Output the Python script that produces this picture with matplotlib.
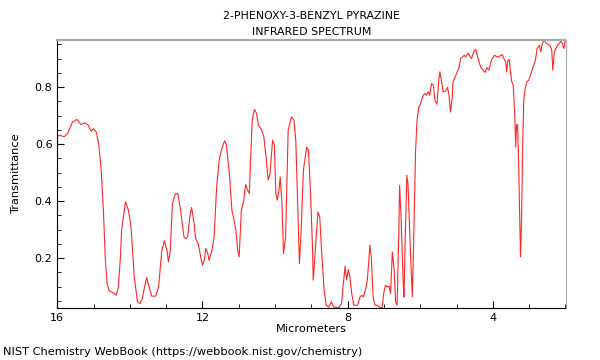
import matplotlib
matplotlib.use("Agg")
import matplotlib.pyplot as plt
from matplotlib.ticker import MultipleLocator

# values (micrometers, transmittance)
wavelength = [
    16.00, 15.94, 15.81, 15.72, 15.58, 15.46, 15.35, 15.24, 15.16, 15.07,
    15.00, 14.93, 14.86, 14.79, 14.73, 14.68, 14.63, 14.57, 14.45, 14.37,
    14.32, 14.26, 14.23, 14.12, 14.04, 13.97, 13.88, 13.79, 13.72, 13.66,
    13.54, 13.47, 13.40, 13.29, 13.21, 13.12, 13.05, 12.97, 12.94, 12.89,
    12.83, 12.75, 12.68, 12.61, 12.51, 12.46, 12.41, 12.35, 12.30, 12.23,
    12.19, 12.12, 12.05, 12.00, 11.95, 11.91, 11.86, 11.82, 11.74, 11.68,
    11.61, 11.54, 11.47, 11.39, 11.34, 11.26, 11.19, 11.14, 11.08, 11.03,
    10.99, 10.93, 10.87, 10.81, 10.76, 10.71, 10.68, 10.63, 10.57, 10.51,
    10.46, 10.37, 10.31, 10.25, 10.19, 10.14, 10.07, 10.02, 9.98, 9.94,
    9.90, 9.86, 9.81, 9.77, 9.71, 9.64, 9.55, 9.48, 9.43, 9.39,
    9.33, 9.29, 9.22, 9.13, 9.08, 9.02, 8.97, 8.95, 8.88, 8.82,
    8.77, 8.72, 8.65, 8.59, 8.52, 8.45, 8.39, 8.24, 8.17, 8.12,
    8.07, 8.03, 7.98, 7.94, 7.89, 7.83, 7.73, 7.66, 7.61, 7.57,
    7.50, 7.46, 7.41, 7.39, 7.35, 7.30, 7.25, 7.18, 7.12, 7.05,
    7.01, 6.96, 6.90, 6.86, 6.82, 6.77, 6.72, 6.68, 6.64, 6.59,
    6.57, 6.53, 6.47, 6.45, 6.41, 6.37, 6.34, 6.28, 6.22, 6.18,
    6.13, 6.09, 6.04, 5.99, 5.94, 5.88, 5.83, 5.78, 5.74, 5.69,
    5.64, 5.60, 5.54, 5.49, 5.46, 5.42, 5.37, 5.31, 5.25, 5.21,
    5.17, 5.12, 5.10, 5.00, 4.93, 4.89, 4.84, 4.79, 4.75, 4.68,
    4.63, 4.59, 4.52, 4.47, 4.41, 4.34, 4.27, 4.22, 4.16, 4.11,
    4.04, 3.96, 3.88, 3.81, 3.74, 3.70, 3.65, 3.62, 3.59, 3.55,
    3.51, 3.48, 3.44, 3.40, 3.37, 3.35, 3.32, 3.29, 3.26, 3.24,
    3.21, 3.18, 3.15, 3.12, 3.07, 3.01, 2.95, 2.89, 2.83, 2.78,
    2.72, 2.68, 2.64, 2.59, 2.52, 2.43, 2.38, 2.35, 2.31, 2.26,
    2.22, 2.17, 2.13, 2.09, 2.04, 2.01,
]
transmittance = [
    0.626, 0.632, 0.626, 0.637, 0.678, 0.687, 0.669, 0.675, 0.669, 0.646,
    0.654, 0.643, 0.602, 0.509, 0.368, 0.205, 0.111, 0.085, 0.078, 0.070,
    0.099, 0.205, 0.298, 0.398, 0.368, 0.310, 0.134, 0.047, 0.041, 0.059,
    0.132, 0.099, 0.067, 0.067, 0.099, 0.228, 0.261, 0.222, 0.187, 0.222,
    0.392, 0.425, 0.427, 0.374, 0.275, 0.269, 0.275, 0.345, 0.378, 0.322,
    0.269, 0.252, 0.205, 0.175, 0.193, 0.234, 0.219, 0.193, 0.228, 0.275,
    0.450, 0.544, 0.585, 0.612, 0.596, 0.497, 0.368, 0.339, 0.298, 0.228,
    0.205, 0.368, 0.398, 0.459, 0.439, 0.427, 0.532, 0.684, 0.722, 0.708,
    0.667, 0.649, 0.626, 0.555, 0.474, 0.497, 0.614, 0.596, 0.427, 0.404,
    0.433, 0.485, 0.392, 0.216, 0.275, 0.649, 0.696, 0.684, 0.614, 0.439,
    0.181, 0.275, 0.509, 0.590, 0.579, 0.415, 0.240, 0.123, 0.252, 0.362,
    0.345, 0.228, 0.088, 0.035, 0.029, 0.047, 0.029, 0.027, 0.041, 0.111,
    0.172, 0.125, 0.160, 0.134, 0.076, 0.035, 0.035, 0.064, 0.070, 0.064,
    0.094, 0.123, 0.205, 0.246, 0.205, 0.064, 0.035, 0.035, 0.027, 0.027,
    0.076, 0.105, 0.099, 0.102, 0.076, 0.222, 0.158, 0.047, 0.035, 0.298,
    0.456, 0.345, 0.111, 0.064, 0.298, 0.491, 0.462, 0.252, 0.064, 0.275,
    0.579, 0.684, 0.731, 0.743, 0.766, 0.778, 0.772, 0.784, 0.772, 0.813,
    0.807, 0.754, 0.740, 0.825, 0.854, 0.825, 0.784, 0.786, 0.799, 0.772,
    0.713, 0.766, 0.819, 0.848, 0.871, 0.901, 0.906, 0.912, 0.906, 0.920,
    0.906, 0.901, 0.927, 0.932, 0.901, 0.871, 0.860, 0.852, 0.869, 0.860,
    0.895, 0.912, 0.906, 0.909, 0.915, 0.901, 0.889, 0.854, 0.893, 0.897,
    0.848, 0.819, 0.807, 0.708, 0.590, 0.667, 0.670, 0.532, 0.345, 0.205,
    0.345, 0.590, 0.754, 0.789, 0.819, 0.825, 0.848, 0.871, 0.895, 0.936,
    0.947, 0.924, 0.953, 0.965, 0.953, 0.947, 0.930, 0.860, 0.924, 0.936,
    0.947, 0.953, 0.962, 0.953, 0.936, 0.965,
]

fig = plt.figure(figsize=(6, 3.6), dpi=100)
ax = fig.add_axes([0.0955, 0.145, 0.847, 0.745])
ax.plot(wavelength, transmittance, color='red', linewidth=0.8, alpha=0.85)

ax.set_xlim(16, 2)
ax.set_ylim(0.026, 0.967)
ax.xaxis.set_major_locator(MultipleLocator(4))
ax.xaxis.set_minor_locator(MultipleLocator(1))
ax.yaxis.set_major_locator(MultipleLocator(0.2))
ax.yaxis.set_minor_locator(MultipleLocator(0.05))
ax.tick_params(which='both', direction='in', top=False, right=False, labelsize=8)
ax.tick_params(which='major', length=5)
ax.tick_params(which='minor', length=3)

ax.spines['top'].set_color('#aaaaaa')
ax.spines['top'].set_linewidth(1.6)
ax.spines['right'].set_color('#aaaaaa')

ax.set_xlabel('Micrometers', fontsize=8.2, labelpad=1)
ax.set_ylabel('Transmittance', fontsize=8.2, labelpad=10)
ax.set_title('2-PHENOXY-3-BENZYL PYRAZINE\nINFRARED SPECTRUM', fontsize=7.9,
             pad=3, linespacing=1.75)
fig.text(0.005, 0.015, 'NIST Chemistry WebBook (https://webbook.nist.gov/chemistry)', fontsize=8.2)

fig.savefig('out.png', dpi=100)
